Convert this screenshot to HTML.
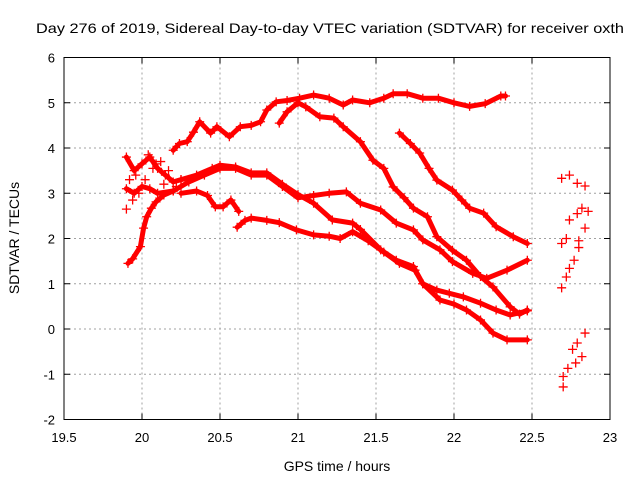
<!DOCTYPE html>
<html><head><meta charset="utf-8"><style>
body{margin:0;background:#fff;}
svg{display:block;font-family:"Liberation Sans",sans-serif;}
</style></head><body>
<svg id="chart" width="640" height="480" viewBox="0 0 640 480" xmlns="http://www.w3.org/2000/svg">
<rect width="640" height="480" fill="#fff"/>
<text x="330" y="33" font-size="14" text-anchor="middle" textLength="588" lengthAdjust="spacingAndGlyphs">Day 276 of 2019, Sidereal Day-to-day VTEC variation (SDTVAR) for receiver oxth</text>
<g id="grid"></g>
<g id="axes"></g>
<g id="series"></g>
<text x="337" y="471" font-size="14" text-anchor="middle">GPS time / hours</text>
<text transform="translate(19,238) rotate(-90)" font-size="14" text-anchor="middle">SDTVAR / TECUs</text>
</svg>
<script>
const xTicks = [19.5, 20, 20.5, 21, 21.5, 22, 22.5, 23];
const xTickLabels = ["19.5", "20", "20.5", "21", "21.5", "22", "22.5", "23"];
const yTicks = [-2, -1, 0, 1, 2, 3, 4, 5, 6];
const yTickLabels = ["-2", "-1", "0", "1", "2", "3", "4", "5", "6"];

const seriesAx = [20.2,20.24,20.29,20.33,20.37,20.44,20.48,20.56,20.63,20.7,20.76,20.8,20.86,20.93,21.01,21.1,21.2,21.29,21.35,21.46,21.55,21.61,21.7,21.8,21.9,22.0,22.1,22.2,22.3,22.33];
const seriesAy = [3.95,4.1,4.14,4.35,4.58,4.33,4.47,4.25,4.47,4.5,4.58,4.84,5.02,5.05,5.1,5.17,5.1,4.95,5.06,5.0,5.1,5.2,5.2,5.1,5.1,5.0,4.92,4.98,5.15,5.15];
const seriesBx = [20.88,20.93,21.0,21.05,21.14,21.23,21.29,21.4,21.48,21.55,21.61,21.68,21.74,21.83,21.89,21.99,22.08,22.17,22.25,22.36,22.42,22.47];
const seriesBy = [4.55,4.8,5.0,4.91,4.69,4.66,4.47,4.14,3.73,3.55,3.14,2.9,2.67,2.48,2.04,1.74,1.52,1.16,0.93,0.49,0.33,0.42];
const seriesCx = [21.65,21.72,21.78,21.84,21.89,21.99,22.05,22.1,22.19,22.27,22.38,22.47];
const seriesCy = [4.33,4.1,3.89,3.55,3.29,3.07,2.85,2.67,2.56,2.26,2.04,1.89];
const seriesDx = [20.25,20.35,20.45,20.5,20.6,20.7,20.8,20.9,21.0,21.1,21.22,21.35,21.4,21.53,21.63,21.74,21.8,21.89,21.97,22.06,22.17,22.27,22.36,22.47];
const seriesDy = [3.3,3.4,3.55,3.62,3.58,3.45,3.45,3.2,2.97,2.78,2.41,2.34,2.2,1.75,1.52,1.38,1.0,0.86,0.79,0.71,0.57,0.42,0.31,0.4];
const seriesEx = [20.2,20.3,20.4,20.5,20.6,20.7,20.8,20.9,21.0,21.1,21.2,21.31,21.4,21.53,21.63,21.74,21.8,21.91,21.99,22.12,22.21,22.34,22.47];
const seriesEy = [3.05,3.25,3.4,3.55,3.55,3.4,3.4,3.15,2.9,2.95,3.0,3.03,2.78,2.63,2.34,2.19,1.97,1.75,1.49,1.23,1.12,1.3,1.52];
const seriesFx = [20.61,20.66,20.7,20.8,20.88,20.99,21.1,21.2,21.27,21.35,21.45,21.55,21.65,21.75,21.8,21.91,22.0,22.08,22.17,22.25,22.34,22.47];
const seriesFy = [2.25,2.4,2.45,2.4,2.35,2.19,2.08,2.05,2.0,2.15,1.95,1.7,1.45,1.3,1.0,0.64,0.55,0.42,0.2,-0.09,-0.24,-0.24];
const seriesHx = [19.91,19.94,19.99,20.01,20.03,20.06,20.09,20.14,20.2];
const seriesHy = [1.45,1.55,1.82,2.23,2.48,2.67,2.81,2.96,3.05];
const seriesIx = [19.9,19.95,20.0,20.05,20.1,20.15,20.2,20.25];
const seriesIy = [3.8,3.5,3.65,3.8,3.55,3.4,3.25,3.3];
const seriesJx = [19.9,19.95,20.0,20.05,20.1,20.2];
const seriesJy = [3.1,3.0,3.15,3.1,3.0,3.05];
const seriesKx = [20.25,20.35,20.42,20.47,20.52,20.57,20.62];
const seriesKy = [3.0,3.05,2.95,2.7,2.7,2.85,2.6];
const seriesMx = [19.92,19.96,20.02,20.07,20.12,20.17,20.22];
const seriesMy = [3.3,3.4,3.3,3.55,3.7,3.5,3.15];
const seriesNx = [19.9,19.94,19.98,20.04,20.09,20.14];
const seriesNy = [2.65,2.85,3.0,3.85,3.65,3.2];
const seriesL1x = [22.69,22.74,22.79,22.84];
const seriesL1y = [3.33,3.4,3.22,3.16];
const seriesL2x = [22.69,22.72,22.74,22.79,22.82,22.86,22.84,22.8];
const seriesL2y = [1.89,2.0,2.41,2.55,2.67,2.6,2.23,1.95];
const seriesL3x = [22.69,22.72,22.74,22.77,22.8];
const seriesL3y = [0.91,1.15,1.34,1.52,1.8];
const seriesL4x = [22.7,22.7,22.73,22.78,22.82,22.76,22.79,22.84];
const seriesL4y = [-1.28,-1.05,-0.87,-0.75,-0.61,-0.45,-0.31,-0.09];

const NS = "http://www.w3.org/2000/svg";
const L = 64, R = 610, T = 57.5, B = 419.5;
const xMin = 19.5, xMax = 23, yMin = -2, yMax = 6;
function xs(v){ return L + (v - xMin) / (xMax - xMin) * (R - L); }
function ys(v){ return B - (v - yMin) / (yMax - yMin) * (B - T); }
function mk(tag, attrs, parent){ const e = document.createElementNS(NS, tag); for (const k in attrs) e.setAttribute(k, attrs[k]); parent.appendChild(e); return e; }

const grid = document.getElementById('grid');
const axes = document.getElementById('axes');
xTicks.forEach((v, i) => {
  const x = xs(v);
  if (i > 0 && i < xTicks.length - 1) {
    const g = mk('line', {x1:x, x2:x, y1:T, y2:B, stroke:'#a0a0a0', 'stroke-dasharray':'2,3'}, grid);
    
    
  }
  mk('line', {x1:x, x2:x, y1:B, y2:B-6, stroke:'#000'}, axes);
  mk('line', {x1:x, x2:x, y1:T, y2:T+6, stroke:'#000'}, axes);
  const t = mk('text', {x:x, y:442, 'font-size':13, 'text-anchor':'middle'}, axes);
  t.textContent = xTickLabels[i];
  
  
});
yTicks.forEach((v, i) => {
  const y = ys(v);
  if (i > 0 && i < yTicks.length - 1) {
    const g = mk('line', {x1:L, x2:R, y1:y, y2:y, stroke:'#a0a0a0', 'stroke-dasharray':'2,3'}, grid);
    
    
  }
  mk('line', {x1:L, x2:L+6, y1:y, y2:y, stroke:'#000'}, axes);
  mk('line', {x1:R, x2:R-6, y1:y, y2:y, stroke:'#000'}, axes);
  const t = mk('text', {x:L-9, y:y+5, 'font-size':13, 'text-anchor':'end'}, axes);
  t.textContent = yTickLabels[i];
  
  
});
const frame = mk('rect', {x:L, y:T, width:R-L, height:B-T, fill:'none', stroke:'#000'}, axes);



const sg = document.getElementById('series');
const allSeries = [
  ['series-a', seriesAx, seriesAy, true], ['series-b', seriesBx, seriesBy, true],
  ['series-c', seriesCx, seriesCy, true], ['series-d', seriesDx, seriesDy, true],
  ['series-e', seriesEx, seriesEy, true], ['series-f', seriesFx, seriesFy, true],
  ['series-h', seriesHx, seriesHy, true], ['series-i', seriesIx, seriesIy, true],
  ['series-j', seriesJx, seriesJy, true], ['series-k', seriesKx, seriesKy, true],
  ['series-m', seriesMx, seriesMy, false], ['series-n', seriesNx, seriesNy, false],
  ['series-l1', seriesL1x, seriesL1y, false], ['series-l2', seriesL2x, seriesL2y, false],
  ['series-l3', seriesL3x, seriesL3y, false], ['series-l4', seriesL4x, seriesL4y, false]
];
allSeries.forEach(([name, xsArr, ysArr, line]) => {
  const g = mk('g', {}, sg);
  
  
  if (line) {
    const pts = xsArr.map((v, i) => xs(v).toFixed(1) + ',' + ys(ysArr[i]).toFixed(1)).join(' ');
    const pl = mk('polyline', {points:pts, fill:'none', stroke:'#ff0000', 'stroke-width':5, 'stroke-linejoin':'round', 'stroke-linecap':'round'}, g);
    
    
  }
  xsArr.forEach((v, i) => {
    const x = xs(v), y = ys(ysArr[i]);
    const p = mk('path', {d:`M${x-4.5},${y}H${x+4.5}M${x},${y-4.5}V${y+4.5}`, stroke:'#ff0000', 'stroke-width':1.3}, g);
    
    
  });
});
</script>
</body></html>
